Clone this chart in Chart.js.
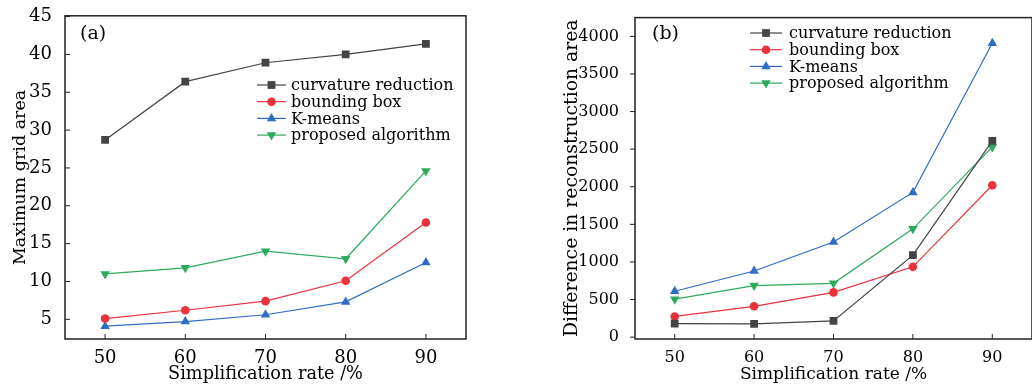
<!DOCTYPE html>
<html>
<head>
<meta charset="utf-8">
<script src="https://cdn.jsdelivr.net/npm/chart.js@4.4.0/dist/chart.umd.min.js"></script>
<style>
  html, body { margin: 0; padding: 0; background: #fff; overflow: hidden; }
  body { width: 1032px; height: 385px; position: relative; }
  .panel { position: absolute; top: 0; height: 385px; }
  #boxA { left: 0; width: 480px; }
  #boxB { left: 500px; width: 532px; }
</style>
</head>
<body>
<div class="panel" id="boxA"><canvas id="chartA"></canvas></div>
<div class="panel" id="boxB"><canvas id="chartB"></canvas></div>
<script>
// datos
const rates = [50, 60, 70, 80, 90];
const seriesNames = ['curvature reduction', 'bounding box', 'K-means', 'proposed algorithm'];

const gridCurvature = [28.7, 36.4, 38.9, 40.0, 41.4];
const gridBounding  = [5.1, 6.2, 7.4, 10.1, 17.8];
const gridKmeans    = [4.1, 4.7, 5.6, 7.3, 12.5];
const gridProposed  = [11.0, 11.8, 14.0, 13.0, 24.6];

const diffCurvature = [180, 175, 215, 1090, 2610];
const diffBounding  = [275, 410, 595, 935, 2020];
const diffKmeans    = [610, 880, 1265, 1925, 3910];
const diffProposed  = [505, 685, 715, 1440, 2530];

const ticksA = [5, 10, 15, 20, 25, 30, 35, 40, 45];
const ticksB = [0, 500, 1000, 1500, 2000, 2500, 3000, 3500, 4000];

const colores = ['#444444', '#e8323c', '#2f6cc6', '#2eaa5c'];
const estilos = ['rect', 'circle', 'triangle', 'triangle'];
const rotaciones = [0, 0, 0, 180];
const radios = [5.5, 4.3, 5.5, 5.5];

const serif = "'DejaVu Serif', serif";

function armarDatasets(valores) {
    return valores.map((v, i) => ({
        label: seriesNames[i],
        data: rates.map((r, k) => ({ x: r, y: v[k] })),
        borderColor: colores[i],
        backgroundColor: colores[i],
        borderWidth: 1.2,
        pointStyle: estilos[i],
        pointRotation: rotaciones[i],
        pointRadius: radios[i],
        pointBorderWidth: 0,
        tension: 0
    }));
}

function marcador(ctx, estilo, rot, r, x, y) {
    ctx.beginPath();
    if (estilo === 'rect') {
        const s = r * Math.SQRT1_2;
        ctx.rect(x - s, y - s, 2 * s, 2 * s);
    } else if (estilo === 'circle') {
        ctx.arc(x, y, r, 0, Math.PI * 2);
    } else {
        const d = rot === 180 ? -1 : 1;
        ctx.moveTo(x, y - d * r);
        ctx.lineTo(x + r * 0.866, y + d * r * 0.5);
        ctx.lineTo(x - r * 0.866, y + d * r * 0.5);
        ctx.closePath();
    }
    ctx.fill();
}

// marco, ticks hacia adentro/afuera, leyenda y etiqueta del panel
const decoracion = {
    id: 'decoracion',
    afterDraw(chart, args, opts) {
        const { ctx, chartArea: a, scales } = chart;
        ctx.save();
        ctx.strokeStyle = '#222';
        ctx.lineWidth = 1.5;
        ctx.strokeRect(a.left, a.top, a.right - a.left, a.bottom - a.top);

        ctx.lineWidth = 1;
        const yDir = opts.yTicksIn ? 1 : -1;
        scales.y.ticks.forEach(t => {
            const py = scales.y.getPixelForValue(t.value);
            ctx.beginPath();
            ctx.moveTo(a.left, py);
            ctx.lineTo(a.left + yDir * 5, py);
            ctx.stroke();
        });
        scales.x.ticks.forEach(t => {
            const px = scales.x.getPixelForValue(t.value);
            ctx.beginPath();
            ctx.moveTo(px, a.bottom);
            ctx.lineTo(px, a.bottom - 5);
            ctx.stroke();
        });

        // leyenda
        ctx.font = '16px ' + serif;
        ctx.textBaseline = 'middle';
        chart.data.datasets.forEach((ds, i) => {
            const y = opts.legendY + i * 16.7;
            const x0 = opts.legendX;
            ctx.strokeStyle = ds.borderColor;
            ctx.fillStyle = ds.borderColor;
            ctx.lineWidth = 1.2;
            ctx.beginPath();
            ctx.moveTo(x0, y);
            ctx.lineTo(x0 + opts.lineLen, y);
            ctx.stroke();
            marcador(ctx, ds.pointStyle, ds.pointRotation, ds.pointRadius, x0 + opts.lineLen / 2, y);
            ctx.fillStyle = '#000';
            ctx.fillText(ds.label, x0 + opts.textOff, y + 1);
        });

        ctx.font = '19px ' + serif;
        ctx.fillStyle = '#000';
        ctx.fillText(opts.panel, opts.panelX, 34);
        ctx.restore();
    }
};

function crearGrafico(id, valores, cfg) {
    return new Chart(document.getElementById(id), {
        type: 'line',
        data: { datasets: armarDatasets(valores) },
        plugins: [decoracion],
        options: {
            responsive: true,
            maintainAspectRatio: false,
            animation: false,
            layout: { autoPadding: false, padding: { top: 14, right: cfg.padRight, left: cfg.padLeft, bottom: 0 } },
            plugins: {
                legend: { display: false },
                tooltip: { enabled: false },
                decoracion: cfg.deco
            },
            scales: {
                x: {
                    type: 'linear',
                    min: 45, max: 95,
                    afterBuildTicks: s => { s.ticks = rates.map(v => ({ value: v })); },
                    grid: { display: false },
                    border: { display: false },
                    ticks: { color: '#000', font: { family: serif, size: cfg.tickSize }, padding: 1 },
                    title: { display: true, text: 'Simplification rate /%', color: '#000',
                             font: { family: serif, size: cfg.xTitleSize }, padding: 0 },
                    afterFit: s => { s.height = 46; }
                },
                y: {
                    min: cfg.yMin, max: cfg.yMax,
                    afterBuildTicks: s => { s.ticks = cfg.ticks.map(v => ({ value: v })); },
                    grid: { display: false },
                    border: { display: false },
                    ticks: { color: '#000', font: { family: serif, size: cfg.tickSize }, padding: cfg.tickPad,
                             callback: v => String(v) },
                    title: { display: true, text: cfg.yTitle, color: '#000',
                             font: { family: serif, size: cfg.yTitleSize }, padding: 0 },
                    afterFit: s => { s.width = cfg.yWidth; }
                }
            }
        }
    });
}

crearGrafico('chartA', [gridCurvature, gridBounding, gridKmeans, gridProposed], {
    yMin: 2.4, yMax: 45.1, ticks: ticksA, yTitle: 'Maximum grid area',
    padLeft: 10, yWidth: 55, padRight: 14, tickSize: 18, tickPad: 5,
    xTitleSize: 17.7, yTitleSize: 17.5,
    deco: { yTicksIn: true, legendX: 257, legendY: 85, lineLen: 29, textOff: 34, panel: '(a)', panelX: 80 }
});

crearGrafico('chartB', [diffCurvature, diffBounding, diffKmeans, diffProposed], {
    yMin: -25, yMax: 4250, ticks: ticksB, yTitle: 'Difference in reconstruction area',
    padLeft: 61, yWidth: 74, padRight: 0, tickSize: 16, tickPad: 8,
    xTitleSize: 17, yTitleSize: 18.8,
    deco: { yTicksIn: false, legendX: 250, legendY: 33, lineLen: 32, textOff: 39, panel: '(b)', panelX: 152 }
});
</script>
</body>
</html>
